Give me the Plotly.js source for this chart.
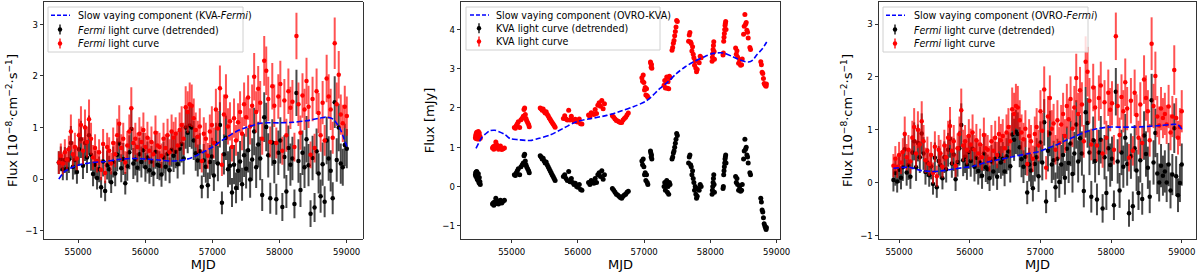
<!DOCTYPE html>
<html><head><meta charset="utf-8">
<script src="https://cdn.plot.ly/plotly-3.0.1.min.js"></script>
<style>html,body{margin:0;padding:0;background:#fff}#chart{width:1200px;height:274px}</style>
</head><body><div id="chart"></div>
<script>
// ---------- Fermi light curve (shared flux values, two time samplings) ----------
const fermi1_mjd = [54712,54742,54772,54802,54832,54862,54892,54922,54952,54982,
55012,55042,55072,55102,55132,55162,55192,55222,55252,55282,
55312,55342,55372,55402,55432,55462,55492,55522,55552,55582,
55612,55642,55672,55702,55732,55762,55792,55822,55852,55882,
55912,55942,55972,56002,56032,56062,56092,56122,56152,56182,
56212,56242,56272,56302,56332,56362,56392,56422,56452,56482,
56512,56542,56572,56602,56632,56662,56692,56722,56752,56782,
56812,56842,56872,56902,56932,56962,56992,57022,57052,57082,
57112,57142,57172,57202,57232,57262,57292,57322,57352,57382,
57412,57442,57472,57502,57532,57562,57592,57622,57652,57682,
57712,57742,57772,57802,57832,57862,57892,57922,57952,57982,
58012,58042,58072,58102,58132,58162,58192,58222,58252,58282,
58312,58342,58372,58402,58432,58462,58492,58522,58552,58582,
58612,58642,58672,58702,58732,58762,58792,58822,58852,58882,
58912,58942,58972,59002];

const fermi3_mjd = [54921,54948,54974,55001,55028,55054,55081,55108,55134,55161,55188,55214,55241,55267,55294,55321,55347,55374,55401,55427,
55454,55481,55507,55534,55561,55587,55614,55641,55667,55694,55721,55747,55774,55800,55827,55854,55880,55907,55934,55960,
55987,56014,56040,56067,56094,56120,56147,56174,56200,56227,56254,56280,56307,56333,56360,56387,56413,56440,56467,56493,
56520,56547,56573,56600,56627,56653,56680,56707,56733,56760,56787,56813,56840,56866,56893,56920,56946,56973,57000,57026,
57053,57080,57106,57133,57160,57186,57213,57240,57266,57293,57320,57346,57373,57399,57426,57453,57479,57506,57533,57559,
57586,57613,57639,57666,57693,57719,57746,57773,57799,57826,57853,57879,57906,57932,57959,57986,58012,58039,58066,58092,
58119,58146,58172,58199,58226,58252,58279,58306,58332,58359,58386,58412,58439,58465,58492,58519,58545,58572,58599,58625,
58652,58679,58705,58732,58759,58785,58812,58839,58865,58892,58919,58945,58972,58998];

const fermi_flux = [0.32,0.45,0.30,0.52,0.38,0.58,0.92,0.48,0.62,0.40,
0.85,1.05,0.55,1.00,0.72,1.16,0.78,0.42,0.60,0.35,
0.52,0.18,0.68,0.12,0.62,0.55,0.30,0.70,0.48,0.85,
1.07,0.60,0.78,0.32,0.65,0.92,1.37,0.70,0.78,0.62,
0.88,0.72,0.95,0.62,0.80,0.55,0.72,0.48,0.90,0.65,
0.62,0.45,0.78,0.60,0.85,0.52,0.92,0.80,0.88,0.65,
0.95,1.05,0.78,1.39,1.30,1.45,1.42,1.18,0.95,0.82,
1.02,0.35,0.88,0.78,0.45,0.92,1.05,0.70,1.35,0.98,
1.76,0.28,1.25,1.60,1.02,1.12,0.62,1.18,0.75,1.10,
1.30,0.88,1.45,1.20,1.58,1.02,1.42,1.98,1.30,1.75,
1.48,0.78,2.29,2.10,1.55,0.72,1.80,1.42,0.70,1.60,
1.84,0.55,1.52,0.85,1.70,1.38,1.50,0.62,2.77,1.45,
0.90,1.62,1.35,1.90,1.40,0.47,1.55,0.60,1.70,1.28,
0.85,1.48,0.75,1.95,1.60,1.35,0.80,2.63,1.45,2.02,
1.25,1.08,1.40,1.22,1.30,1.10,1.44,0.95,1.25,2.13,
1.22,0.85,1.05,1.35];

const fermi_err = [0.22,0.24,0.21,0.25,0.22,0.26,0.33,0.25,0.28,0.23,
0.32,0.36,0.26,0.35,0.30,0.38,0.31,0.24,0.27,0.22,
0.25,0.20,0.29,0.20,0.28,0.26,0.21,0.30,0.25,0.32,
0.36,0.27,0.31,0.22,0.28,0.33,0.41,0.30,0.31,0.28,
0.32,0.30,0.34,0.28,0.31,0.26,0.30,0.25,0.33,0.28,
0.28,0.24,0.31,0.27,0.32,0.25,0.33,0.31,0.32,0.28,
0.34,0.36,0.31,0.41,0.40,0.42,0.41,0.38,0.34,0.31,
0.35,0.22,0.32,0.31,0.25,0.33,0.36,0.30,0.40,0.34,
0.44,0.22,0.39,0.43,0.35,0.37,0.28,0.38,0.30,0.37,
0.40,0.32,0.42,0.38,0.43,0.35,0.41,0.46,0.40,0.44,
0.42,0.31,0.48,0.47,0.43,0.30,0.45,0.41,0.30,0.43,
0.45,0.27,0.42,0.32,0.44,0.41,0.42,0.28,0.45,0.42,
0.33,0.43,0.40,0.45,0.41,0.26,0.43,0.28,0.44,0.39,
0.32,0.42,0.30,0.46,0.43,0.40,0.31,0.50,0.42,0.46,
0.39,0.36,0.41,0.38,0.40,0.37,0.41,0.34,0.39,0.47,
0.38,0.32,0.36,0.40];

// detrended Fermi, panel 1 (KVA-Fermi trend removed)
const fermi1_detr = [0.32,0.39,0.19,0.37,0.20,0.38,0.70,0.24,0.37,0.14,
0.58,0.77,0.26,0.70,0.42,0.85,0.47,0.10,0.28,0.02,
0.19,-0.16,0.34,-0.23,0.27,0.19,-0.06,0.33,0.11,0.47,
0.69,0.21,0.39,-0.08,0.25,0.52,0.97,0.30,0.38,0.22,
0.48,0.33,0.56,0.23,0.42,0.17,0.34,0.11,0.53,0.28,
0.26,0.09,0.42,0.24,0.49,0.17,0.57,0.45,0.53,0.29,
0.59,0.68,0.40,1.00,0.90,1.04,1.00,0.75,0.50,0.36,
0.54,-0.15,0.36,0.24,-0.12,0.33,0.44,0.07,0.69,0.30,
1.05,-0.46,0.48,0.80,0.19,0.26,-0.26,0.28,-0.17,0.16,
0.34,-0.10,0.46,0.20,0.56,-0.01,0.38,0.92,0.23,0.67,
0.40,-0.31,1.20,1.01,0.46,-0.37,0.71,0.33,-0.39,0.51,
0.75,-0.54,0.43,-0.24,0.60,0.28,0.40,-0.48,1.67,0.35,
-0.21,0.51,0.23,0.77,0.27,-0.67,0.41,-0.55,0.54,0.11,
-0.33,0.29,-0.44,0.75,0.40,0.16,-0.37,1.49,0.37,1.00,
0.30,0.23,0.66,0.59];

// detrended Fermi, panel 3 (OVRO-Fermi trend removed)
const fermi3_detr = [0.05,0.18,0.02,0.24,0.09,0.29,0.63,0.19,0.33,0.11,
0.57,0.78,0.29,0.75,0.48,0.93,0.55,0.20,0.38,0.14,
0.31,-0.03,0.47,-0.09,0.41,0.33,0.08,0.48,0.25,0.62,
0.83,0.36,0.53,0.06,0.39,0.65,1.09,0.42,0.49,0.33,
0.58,0.41,0.64,0.30,0.47,0.22,0.38,0.13,0.55,0.29,
0.25,0.08,0.40,0.21,0.45,0.11,0.51,0.38,0.45,0.21,
0.50,0.59,0.31,0.91,0.81,0.96,0.92,0.67,0.44,0.30,
0.49,-0.19,0.34,0.23,-0.11,0.35,0.48,0.12,0.76,0.38,
1.14,-0.36,0.60,0.93,0.34,0.42,-0.09,0.45,0.01,0.34,
0.52,0.09,0.64,0.37,0.74,0.16,0.55,1.10,0.40,0.84,
0.55,-0.16,1.33,1.13,0.57,-0.27,0.80,0.41,-0.32,0.57,
0.81,-0.49,0.48,-0.20,0.65,0.33,0.45,-0.43,1.72,0.40,
-0.15,0.57,0.30,0.85,0.35,-0.58,0.50,-0.45,0.65,0.23,
-0.20,0.42,-0.31,0.89,0.54,0.28,-0.27,1.56,0.38,0.94,
0.17,0.00,0.32,0.13,0.21,0.00,0.34,-0.15,0.15,1.03,
0.12,-0.24,-0.01,0.34];

// slow varying components
const slow1_mjd = [54712,54800,54900,55000,55200,55400,55600,55800,56000,56200,56400,56600,56700,56800,56900,57000,57100,57200,57300,57400,57500,57600,57700,57800,58000,58200,58400,58600,58700,58800,58850,58900,58950,59002];
const slow1_val = [0.00,0.15,0.22,0.27,0.32,0.34,0.38,0.40,0.39,0.37,0.35,0.38,0.42,0.48,0.55,0.62,0.71,0.80,0.88,0.95,1.00,1.04,1.08,1.09,1.09,1.10,1.13,1.18,1.20,1.16,1.08,0.98,0.82,0.63];

const slow3_mjd = [54921,55000,55150,55300,55450,55600,55750,55900,56050,56230,56400,56610,56800,56990,57100,57200,57380,57500,57665,57800,57950,58100,58330,58500,58700,58850,58940,58970,58998];
const slow3_val = [0.27,0.28,0.29,0.23,0.21,0.22,0.25,0.28,0.31,0.38,0.43,0.49,0.54,0.59,0.65,0.70,0.81,0.88,0.97,1.02,1.05,1.05,1.05,1.06,1.08,1.10,1.10,1.06,1.01];

const slow2_mjd = [54461,54500,54550,54600,54672,54746,54800,54900,54975,55100,55277,55400,55579,55800,55981,56200,56434,56650,56836,57012,57100,57238,57350,57490,57620,57742,57900,58043,58193,58345,58450,58572,58640,58698,58780,58849];
const slow2_val = [0.97,1.10,1.25,1.33,1.42,1.43,1.40,1.32,1.22,1.19,1.17,1.22,1.31,1.50,1.65,1.73,1.81,1.92,2.03,2.16,2.27,2.50,2.65,2.88,3.05,3.17,3.30,3.39,3.40,3.30,3.22,3.17,3.22,3.35,3.50,3.68];

// ---------- KVA light curve ----------
const kva_mjd = [54452,54456,54460,54464,54468,54472,54476,54480,54484,54488,54492,54496,54500,54505,54510,54515,54520,54525,
54710,54720,54730,54740,54750,54760,54770,54780,54790,54800,54815,54830,54850,54870,54890,
55040,55055,55070,55085,55100,55120,55140,55160,55175,55185,55195,55205,55215,55225,55240,55255,55265,
55430,55445,55460,55475,55490,55505,55520,55535,55550,55565,55580,55595,55610,55625,55640,55655,
55780,55800,55820,55840,55860,55880,55900,55920,55940,55960,55980,56000,56020,56040,56060,
56160,56180,56200,56220,56240,56260,56280,56300,56320,56340,56360,56380,56400,
56520,56540,56560,56580,56600,56620,56640,56660,56680,56700,56720,56740,56760,
56965,56975,56985,56995,57005,57015,57025,57035,57045,57055,57095,57100,57105,57110,57115,
57300,57310,57320,57330,57340,57350,57360,57370,57380,57390,57420,57430,57440,57450,57460,57470,57480,57490,57500,
57670,57680,57690,57700,57710,57720,57730,57740,57750,57760,57770,57780,57790,57800,57810,57830,57845,57860,
58025,58030,58035,58040,58045,58050,58055,58060,
58190,58195,58200,58205,58210,58215,58220,58225,58230,58235,
58380,58390,58400,58410,58425,58440,58455,58470,58480,
58500,58510,58520,58530,58540,58550,58560,58570,
58595,58605,
58760,58770,58780,58790,58800,58810,58820,58830,58840,58845];

const kva_flux = [1.24,1.30,1.22,1.35,1.25,1.38,1.26,1.21,1.32,1.26,1.23,1.40,1.28,1.21,1.36,1.23,1.28,1.23,
0.98,1.01,0.95,1.03,0.99,1.13,1.07,1.00,1.03,0.95,0.99,1.03,0.94,0.96,0.98,
1.50,1.48,1.55,1.60,1.65,1.50,1.70,1.74,1.79,1.96,2.00,1.83,1.73,1.68,1.63,1.58,1.52,
2.00,1.98,1.94,1.97,1.91,1.87,1.90,1.84,1.80,1.75,1.71,1.67,1.63,1.59,1.55,1.51,
1.73,1.80,1.72,1.69,1.94,1.69,1.79,1.70,1.67,1.71,1.65,1.64,1.72,1.60,1.59,
1.82,1.77,1.88,1.86,1.83,1.96,1.86,2.07,2.13,2.04,2.19,1.98,2.11,
1.80,1.76,1.72,1.68,1.67,1.65,1.63,1.63,1.69,1.73,1.76,1.82,1.87,
2.77,2.68,2.84,2.65,2.46,2.52,2.33,2.49,2.31,2.27,3.17,3.13,3.04,3.10,3.01,
2.58,2.70,2.51,2.68,2.79,2.50,2.67,2.49,2.81,2.77,3.47,3.54,3.65,3.72,3.84,3.95,4.06,4.23,4.20,
3.70,3.86,3.92,3.68,3.64,3.45,3.56,3.37,3.28,3.09,3.20,3.01,2.92,2.98,3.19,3.15,3.32,3.28,
3.19,3.29,3.39,3.49,3.59,3.69,3.44,3.24,
3.35,3.40,3.70,3.80,3.90,4.00,4.10,4.15,4.20,4.00,
3.53,3.37,3.46,3.30,3.14,3.23,3.09,3.10,3.25,
3.88,4.08,4.38,4.13,4.18,3.98,3.93,3.78,
3.54,3.49,
3.18,3.10,2.91,2.88,2.75,2.62,2.60,2.57,2.55,2.61];

const kva_detr = [0.30,0.35,0.25,0.37,0.26,0.38,0.24,0.18,0.27,0.20,0.16,0.32,0.18,0.10,0.23,0.08,0.12,0.05,
-0.45,-0.42,-0.48,-0.40,-0.44,-0.30,-0.35,-0.42,-0.38,-0.45,-0.40,-0.35,-0.42,-0.38,-0.35,
0.30,0.28,0.35,0.40,0.45,0.30,0.50,0.55,0.60,0.78,0.82,0.65,0.55,0.50,0.45,0.40,0.35,
0.78,0.75,0.70,0.72,0.65,0.60,0.62,0.55,0.50,0.45,0.40,0.35,0.30,0.25,0.20,0.15,
0.25,0.30,0.20,0.15,0.38,0.12,0.20,0.10,0.05,0.08,0.00,-0.02,0.05,-0.08,-0.10,
0.10,0.05,0.15,0.12,0.08,0.20,0.10,0.30,0.35,0.25,0.40,0.18,0.30,
-0.05,-0.10,-0.15,-0.20,-0.22,-0.25,-0.28,-0.30,-0.25,-0.22,-0.20,-0.15,-0.12,
0.65,0.55,0.70,0.50,0.30,0.35,0.15,0.30,0.10,0.05,0.90,0.85,0.75,0.80,0.70,
0.00,0.10,-0.10,0.05,0.15,-0.15,0.00,-0.20,0.10,0.05,0.70,0.75,0.85,0.90,1.00,1.10,1.20,1.35,1.30,
0.60,0.75,0.80,0.55,0.50,0.30,0.40,0.20,0.10,-0.10,0.00,-0.20,-0.30,-0.25,-0.05,-0.10,0.05,0.00,
-0.20,-0.10,0.00,0.10,0.20,0.30,0.05,-0.15,
-0.05,0.00,0.30,0.40,0.50,0.60,0.70,0.75,0.80,0.60,
0.25,0.10,0.20,0.05,-0.10,0.00,-0.12,-0.10,0.05,
0.70,0.90,1.20,0.95,1.00,0.80,0.75,0.60,
0.35,0.30,
-0.30,-0.40,-0.60,-0.65,-0.80,-0.95,-1.00,-1.05,-1.10,-1.05];

// ---------- labels ----------
const xTickVals = [55000,56000,57000,58000,59000];
const fermiYTitle = 'Flux [10<sup>−8</sup>·cm<sup>−2</sup>·s<sup>−1</sup>]';
const kvaYTitle = 'Flux [mJy]';
const names1 = ['Slow vaying component (KVA-<i>Fermi</i>)', '<i>Fermi</i> light curve (detrended)', '<i>Fermi</i> light curve'];
const names2 = ['Slow vaying component (OVRO-KVA)', 'KVA light curve (detrended)', 'KVA light curve'];
const names3 = ['Slow vaying component (OVRO-<i>Fermi</i>)', '<i>Fermi</i> light curve (detrended)', '<i>Fermi</i> light curve'];

// ---------- style ----------
const TICKFONT = {family: 'DejaVu Sans Condensed, DejaVu Sans, sans-serif', size: 9.5, color: '#000'};
const TITLEFONT = {family: 'DejaVu Sans, sans-serif', size: 13, color: '#000'};
const LEGFONT = {family: 'DejaVu Sans Condensed, DejaVu Sans, sans-serif', size: 10.6, color: '#000'};
const BLUE = '#0000ff', RED = '#ff0000', BLACK = '#000000';
const DASH = '5.5px,2.4px';

function pointTraces(x, yDet, yRaw, err, names, xa, ya, msize, ebThick) {
  const nLen = x.length;
  const e = err ? err.slice(0, nLen) : null;
  const errBlack = err ? {type: 'data', array: e, visible: true, color: 'rgba(0,0,0,0.72)', thickness: ebThick, width: 0}
                       : {type: 'constant', value: 0.03, visible: true, color: 'rgba(0,0,0,0.8)', thickness: 1.2, width: 0};
  const errRed = err ? {type: 'data', array: e, visible: true, color: 'rgba(255,0,0,0.68)', thickness: ebThick, width: 0}
                     : {type: 'constant', value: 0.03, visible: true, color: 'rgba(255,0,0,0.8)', thickness: 1.2, width: 0};
  return [
    {type: 'scatter', mode: 'markers', x: x, y: yDet.slice(0, nLen), name: names[1], xaxis: xa, yaxis: ya,
     marker: {color: BLACK, size: msize}, error_y: errBlack, hoverinfo: 'skip'},
    {type: 'scatter', mode: 'markers', x: x, y: yRaw.slice(0, nLen), name: names[2], xaxis: xa, yaxis: ya,
     marker: {color: RED, size: msize}, error_y: errRed, hoverinfo: 'skip'}
  ];
}
function slowTrace(x, y, name, xa, ya) {
  return {type: 'scatter', mode: 'lines', x: x, y: y, name: name, xaxis: xa, yaxis: ya,
          line: {color: BLUE, width: 1.6, dash: DASH, shape: 'spline', smoothing: 0.8}, hoverinfo: 'skip'};
}

const data = [].concat(
  pointTraces(fermi1_mjd, fermi1_detr, fermi_flux, fermi_err, names1, 'x', 'y', 4.5, 2),
  [slowTrace(slow1_mjd, slow1_val, names1[0], 'x', 'y')],
  pointTraces(kva_mjd, kva_detr, kva_flux, null, names2, 'x2', 'y2', 5, 1.2),
  [slowTrace(slow2_mjd, slow2_val, names2[0], 'x2', 'y2')],
  pointTraces(fermi3_mjd, fermi3_detr, fermi_flux, fermi_err, names3, 'x3', 'y3', 4.5, 2),
  [slowTrace(slow3_mjd, slow3_val, names3[0], 'x3', 'y3')]
);

function xAxis(domain, range, anchor) {
  return {domain: domain, range: range, anchor: anchor, tickvals: xTickVals, tickformat: 'd',
    ticks: 'outside', ticklen: 3.5, tickwidth: 0.8, tickcolor: '#000', tickfont: TICKFONT,
    showline: true, linecolor: '#000', linewidth: 0.8, mirror: true, showgrid: false, zeroline: false,
    automargin: false, title: {text: 'MJD', font: TITLEFONT, standoff: 3}};
}
function yAxis(range, anchor, title) {
  return {range: range, anchor: anchor, dtick: 1, tick0: 0,
    ticks: 'outside', ticklen: 3.5, tickwidth: 0.8, tickcolor: '#000', tickfont: TICKFONT,
    showline: true, linecolor: '#000', linewidth: 0.8, mirror: true, showgrid: false, zeroline: false,
    automargin: false, title: {text: title, font: TITLEFONT, standoff: 4}};
}

// ---------- in-plot legends (matplotlib style boxes) ----------
const W = 1200, PLOT_TOP = 2, PLOT_BOT = 239;
const px2x = px => px / W;
const px2y = py => (PLOT_BOT - py) / (PLOT_BOT - PLOT_TOP);
const shapes = [], annotations = [];
function addLegend(box, symX, textX, rows, names) {
  shapes.push({type: 'rect', xref: 'paper', yref: 'paper', layer: 'above',
    x0: px2x(box[0]), x1: px2x(box[2]), y0: px2y(box[3]), y1: px2y(box[1]),
    fillcolor: 'rgba(255,255,255,0.8)', line: {color: '#d0d0d0', width: 1}});
  // dashed line sample
  shapes.push({type: 'line', xref: 'paper', yref: 'paper', layer: 'above',
    x0: px2x(symX - 9), x1: px2x(symX + 10), y0: px2y(rows[0]), y1: px2y(rows[0]),
    line: {color: BLUE, width: 1.6, dash: '4px,2px'}});
  [[rows[1], BLACK], [rows[2], RED]].forEach(([ry, col]) => {
    shapes.push({type: 'line', xref: 'paper', yref: 'paper', layer: 'above',
      x0: px2x(symX), x1: px2x(symX), y0: px2y(ry - 5), y1: px2y(ry + 5),
      line: {color: col, width: 1.3}});
    shapes.push({type: 'circle', xref: 'paper', yref: 'paper', layer: 'above',
      x0: px2x(symX - 2.2), x1: px2x(symX + 2.2), y0: px2y(ry + 2.2), y1: px2y(ry - 2.2),
      fillcolor: col, line: {color: col, width: 0}});
  });
  names.forEach((n, i) => annotations.push({xref: 'paper', yref: 'paper', x: px2x(textX), y: px2y(rows[i]),
    xanchor: 'left', yanchor: 'middle', showarrow: false, text: n, font: LEGFONT}));
}
addLegend([48, 7, 243, 52], 60, 76, [15.3, 29.5, 43.5], names1);
addLegend([466, 7, 660, 50], 479, 494, [15, 28.3, 41.5], names2);
addLegend([883, 7, 1088, 52], 895, 912, [15.3, 29.5, 43.5], names3);

const layout = {
  width: 1200, height: 274,
  margin: {l: 0, r: 0, t: PLOT_TOP, b: 274 - PLOT_BOT, pad: 0},
  paper_bgcolor: '#fff', plot_bgcolor: '#fff',
  font: {family: 'DejaVu Sans, sans-serif', color: '#000'},
  showlegend: false,
  xaxis: xAxis([0.0367, 0.3022], [54492, 59238], 'y'),
  yaxis: yAxis([-1.16, 3.43], 'x', fermiYTitle),
  xaxis2: xAxis([0.3842, 0.65], [54235, 59050], 'y2'),
  yaxis2: yAxis([-1.34, 4.70], 'x2', kvaYTitle),
  xaxis3: xAxis([0.7325, 0.9967], [54717, 59200], 'y3'),
  yaxis3: yAxis([-1.07, 3.42], 'x3', fermiYTitle),
  shapes: shapes,
  annotations: annotations
};

Plotly.newPlot('chart', data, layout, {staticPlot: true, displayModeBar: false});
</script>
</body></html>
